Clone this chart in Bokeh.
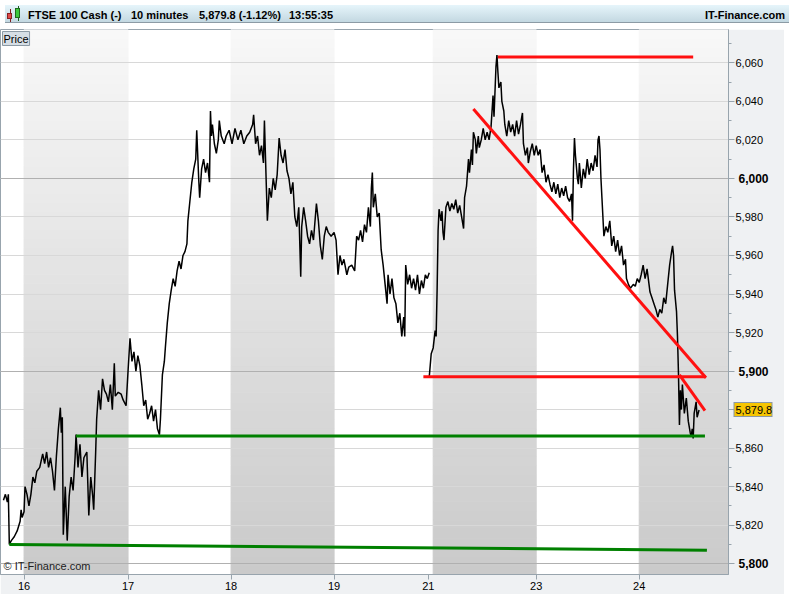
from bokeh.plotting import figure
from bokeh.models import (FixedTicker, Range1d, Label, Grid, Div, NumeralTickFormatter,
                          LinearAxis)
from bokeh.layouts import column
from bokeh.embed import file_html
from bokeh.resources import INLINE

# ---------------- data ----------------
instrument = "FTSE 100 Cash (-)"
interval = "10 minutes"
last_quote = "5,879.8 (-1.12%)"
clock = "13:55:35"
last_price = 5879.8

# 10-minute bar index (0 = first bar of the 16th) and session starts
day_starts = [0, 106, 211, 316, 417, 522, 627]
shaded_days = [0, 2, 4, 6]
tick_pos = [0, 106, 211, 316, 412, 522, 627]
tick_labels = ["16", "17", "18", "19", "21", "23", "24"]
price_ticks = list(range(5800, 6061, 20))
price_minor = list(range(5800, 6071, 10))
bold_ticks = [5800, 5900, 6000]
hidden_ticks = [5880]   # covered by the last-price tag

session1 = [(-21,5833),(-19,5836),(-17,5832),(-16,5836),(-15,5810),(-13,5812),(-10,5814),(-7,5817),(-4,5822),(-3,5828),(-2,5824),(0,5827),(1,5840),(3,5836),(5,5830),(7,5836),(9,5845),(11,5842),(13,5848),(16,5850),(19,5857),(21,5852),(23,5858),(25,5850),(27,5855),(29,5848),(31,5838),(33,5856),(35,5870),(37,5881),(38,5868),(39,5876),(40,5815),(42,5840),(44,5812),(46,5835),(48,5845),(50,5838),(52,5855),(53,5867),(55,5850),(57,5862),(59,5845),(61,5855),(64,5858),(66,5825),(68,5845),(70,5835),(71,5828),(73,5858),(74,5875),(76,5890),(78,5880),(80,5896),(82,5890),(84,5888),(86,5884),(88,5893),(90,5880),(92,5904),(93,5887),(96,5889),(99,5888),(101,5885),(104,5882),(106,5900),(108,5917),(110,5905),(112,5910),(114,5900),(116,5908),(118,5903),(120,5893),(122,5882),(124,5885),(126,5875),(128,5878),(130,5882),(132,5874),(134,5880),(136,5870),(138,5867),(139,5875),(141,5898),(143,5905),(144,5912),(146,5925),(148,5935),(150,5942),(152,5948),(154,5944),(156,5952),(158,5957),(160,5953),(162,5960),(164,5962),(166,5966),(167,5978),(169,5988),(171,5998),(173,6005),(175,6010),(176,6025),(178,6000),(179,5990),(181,6005),(183,6010),(185,6003),(187,6008),(189,5998),(190,6035),(191,6022),(192,6028),(194,6018),(196,6013),(198,6020),(199,6030),(201,6022),(204,6018),(206,6022),(209,6025),(212,6018),(215,6026),(218,6020),(221,6025),(224,6018),(227,6022),(230,6024),(233,6028),(234,6033),(236,6018),(238,6022),(240,6012),(242,6017),(244,6008),(245,6030),(247,5995),(248,5978),(250,5995),(252,5990),(254,6000),(256,5994),(258,6002),(260,6021),(262,6012),(264,6008),(266,6015),(268,6004),(270,6000),(272,5992),(274,5998),(276,5980),(278,5975),(280,5985),(282,5949),(283,5975),(285,5985),(287,5978),(289,5970),(291,5966),(293,5973),(295,5968),(298,5987),(300,5978),(302,5965),(304,5958),(306,5970),(308,5975),(310,5972),(313,5970),(316,5972),(318,5968),(320,5950),(322,5960),(324,5955),(326,5958),(329,5950),(331,5954),(334,5955),(337,5952),(339,5970),(341,5968),(343,5973),(345,5967),(347,5976),(349,5972),(351,5985),(353,5975),(354,5995),(355,6003),(356,5985),(358,5992),(360,5980),(362,5982),(364,5963),(366,5955),(368,5945),(370,5935),(371,5950),(373,5940),(375,5948),(377,5938),(379,5935),(381,5925),(383,5930),(385,5918),(387,5928),(388,5918),(389,5955),(391,5945),(393,5950),(395,5943),(397,5948),(399,5942),(401,5950),(403,5940),(405,5947),(407,5943),(409,5950),(411,5948),(413,5951)]

session2 = [(413,5897),(414,5903),(415,5909),(417,5912),(419,5921),(420,5918),(421,5942),(422,5973),(423,5984),(425,5978),(426,5983),(427,5972),(428,5968),(430,5985),(432,5988),(434,5983),(436,5987),(438,5984),(440,5989),(442,5982),(444,5986),(446,5980),(448,5974),(449,5990),(451,5996),(453,6010),(454,6003),(456,6015),(457,6007),(458,6024),(460,6020),(461,6013),(463,6022),(464,6016),(466,6020),(468,6026),(470,6020),(472,6024),(474,6020),(476,6027),(478,6043),(479,6032),(481,6058),(482,6064),(483,6055),(484,6047),(486,6050),(487,6040),(489,6035),(490,6028),(492,6022),(494,6030),(496,6024),(498,6028),(500,6022),(502,6030),(504,6023),(506,6028),(508,6034),(509,6018),(511,6012),(513,6016),(514,6008),(516,6014),(518,6018),(520,6012),(522,6017),(524,6012),(526,6015),(528,6003),(530,6007),(532,5998),(534,6002),(536,5997),(538,5993),(540,5998),(542,5992),(544,5997),(546,5990),(548,5995),(550,5991),(552,5996),(554,5990),(556,5988),(558,5992),(559,5978),(560,6005),(561,6021),(562,6012),(564,6000),(565,5997),(566,6008),(568,5995),(570,6005),(572,6000),(574,6010),(576,6002),(578,6008),(580,6004),(582,6012),(584,6006),(585,6020),(586,6022),(587,6015),(588,6000),(589,5990),(591,5970),(593,5975),(595,5972),(597,5978),(599,5965),(601,5970),(603,5962),(605,5968),(607,5960),(609,5965),(611,5955),(613,5958),(614,5948),(616,5945),(618,5943),(621,5945),(623,5944),(625,5948),(627,5946),(629,5950),(631,5955),(633,5948),(635,5953),(637,5945),(638,5941),(640,5938),(642,5935),(644,5932),(646,5928),(648,5932),(650,5930),(652,5938),(654,5935),(656,5945),(658,5955),(660,5962),(661,5965),(662,5960),(663,5942),(665,5931),(666,5918),(667,5899),(668,5872),(669,5890),(670,5880),(671,5893),(673,5878),(675,5886),(677,5874),(679,5868),(680,5866),(681,5870),(682,5865),(683,5878),(685,5884),(686,5876),(688,5879.8)]

# drawn trend lines (bar, price)
red_x0 = [483, 458, 407, 668]
red_y0 = [6063, 6036, 5897, 5898]
red_x1 = [682, 695, 695, 694]
red_y1 = [6063, 5896.5, 5897, 5879.5]
green_x0 = [53, -15]
green_y0 = [5866.3, 5810]
green_x1 = [694, 696]
green_y1 = [5866.3, 5807]

# ---------------- view ----------------
X0, X1 = -24, 718
Y0, Y1 = 5794.4, 6077.3
FONT = "Liberation Sans"
AX = "#98a4ad"

p = figure(width=784, height=565, x_range=Range1d(X0, X1), y_range=Range1d(Y0, Y1),
           output_backend="svg", toolbar_location=None, y_axis_location="right",
           min_border_left=0, min_border_top=0, min_border_right=56, min_border_bottom=20)
p.background_fill_color = "white"
p.border_fill_color = "#eff1f3"
p.outline_line_color = AX

# gradient shading of alternate sessions
N = 60
L, R, B, T, C = [], [], [], [], []
for i in shaded_days:
    left = day_starts[i]
    right = day_starts[i + 1] if i + 1 < len(day_starts) else X1
    for k in range(N):
        b = Y0 + (Y1 - Y0) * k / N
        t = Y0 + (Y1 - Y0) * (k + 1) / N
        frac = (k + 0.5) / N
        c = int(round(0xca + (0xf8 - 0xca) * frac))
        L.append(left); R.append(right); B.append(b); T.append(t)
        C.append("#%02x%02x%02x" % (c, c, c))
p.quad(left=L, right=R, bottom=B, top=T, fill_color=C, line_color=C, line_width=1, level="image")

# grids
p.xgrid.visible = False
p.ygrid.ticker = FixedTicker(ticks=price_ticks)
p.ygrid.grid_line_color = "#d8d8d8"
g2 = Grid(dimension=1, ticker=FixedTicker(ticks=bold_ticks), grid_line_color="#b0b0b0")
p.add_layout(g2)

# price line
p.line([b for b, _ in session1], [v for _, v in session1], line_color="black", line_width=1.5)
p.line([b for b, _ in session2], [v for _, v in session2], line_color="black", line_width=1.5)

# trend lines
p.segment(x0=red_x0, y0=red_y0, x1=red_x1, y1=red_y1, line_color="#ff1010", line_width=3)
p.segment(x0=green_x0, y0=green_y0, x1=green_x1, y1=green_y1, line_color="#008000", line_width=3)

# x axis
xa = p.xaxis[0]
xa.ticker = FixedTicker(ticks=tick_pos)
xa.major_label_overrides = {pos: lab for pos, lab in zip(tick_pos, tick_labels)}
xa.major_tick_out = 5
xa.major_tick_in = 0
xa.minor_tick_out = 0
xa.minor_tick_in = 0
xa.axis_line_color = AX
xa.major_tick_line_color = AX
xa.major_label_standoff = 2
xa.major_label_text_font = FONT
xa.major_label_text_font_size = "11px"
xa.major_label_text_color = "black"

# y axis (regular labels)
ya = p.yaxis[0]
ya.ticker = FixedTicker(ticks=price_ticks, minor_ticks=price_minor)
ya.formatter = NumeralTickFormatter(format="0,0")
ya.major_label_overrides = {v: "" for v in bold_ticks + hidden_ticks}
ya.major_tick_out = 6
ya.major_tick_in = 0
ya.minor_tick_out = 3
ya.minor_tick_in = 0
ya.axis_line_color = AX
ya.major_tick_line_color = AX
ya.minor_tick_line_color = AX
ya.major_label_standoff = 1
ya.major_label_text_font = FONT
ya.major_label_text_font_size = "11px"
ya.major_label_text_color = "black"

# second right axis carrying the bold round-hundred labels, pulled back over the first
yb = LinearAxis(ticker=FixedTicker(ticks=bold_ticks), formatter=NumeralTickFormatter(format="0,0"),
                axis_line_color=None, major_tick_line_color=None, minor_tick_line_color=None,
                major_tick_out=0, major_tick_in=0, minor_tick_out=0, minor_tick_in=0,
                major_label_standoff=-28, major_label_text_font=FONT,
                major_label_text_font_size="12px", major_label_text_font_style="bold",
                major_label_text_color="black")
p.add_layout(yb, "right")

# third right axis: last-price tag (grey tick = frame, yellow minor tick = fill)
yc = LinearAxis(ticker=FixedTicker(ticks=[last_price], minor_ticks=[last_price]),
                formatter=NumeralTickFormatter(format="0,0.0"),
                axis_line_color=None,
                major_tick_line_color="#8a98a4", major_tick_line_width=15,
                major_tick_in=38, major_tick_out=1,
                minor_tick_line_color="#f6c500", minor_tick_line_width=13,
                minor_tick_in=37, minor_tick_out=0,
                major_label_standoff=-37, major_label_text_font=FONT,
                major_label_text_font_size="11px", major_label_text_color="black")
p.add_layout(yc, "right")

# "Price" box and copyright
p.add_layout(Label(x=X0, y=Y1, x_offset=2, y_offset=-2, text="Price", text_baseline="top",
                   text_align="left", text_font=FONT, text_font_size="11px", text_color="black",
                   background_fill_color="#d6dee5", border_line_color="#8c9aa5", padding=1))
p.add_layout(Label(x=X0, y=Y0, x_offset=3, y_offset=3, text="\u00a9 IT-Finance.com",
                   text_baseline="bottom", text_align="left", text_font=FONT,
                   text_font_size="11px", text_color="#222222"))

# header bar
font_css = "font-family:'Liberation Sans',Arial,sans-serif;font-weight:bold;font-size:11px;color:#000;"
header_html = (
    '<div style="position:relative;width:784px;height:18px;'
    'background:linear-gradient(to bottom,#e6f5fb,#c3d8e1);border-bottom:1px solid #8c9ba5;' + font_css + '">'
    '<span style="position:absolute;left:5px;top:4px;width:1px;height:13px;background:#802020"></span>'
    '<span style="position:absolute;left:2px;top:8px;width:5px;height:6px;background:#e04a4a;border:1px solid #8a2020"></span>'
    '<span style="position:absolute;left:13px;top:1px;width:1px;height:15px;background:#206020"></span>'
    '<span style="position:absolute;left:10px;top:3px;width:5px;height:10px;background:#3cc83c;border:1px solid #206a20"></span>'
    '<span style="position:absolute;left:23px;top:3px">' + instrument + '</span>'
    '<span style="position:absolute;left:126px;top:3px">' + interval + '</span>'
    '<span style="position:absolute;left:194px;top:3px">' + last_quote + '</span>'
    '<span style="position:absolute;left:284px;top:3px">' + clock + '</span>'
    '<span style="position:absolute;right:4px;top:3px">IT-Finance.com</span>'
    '</div>'
)
header = Div(text=header_html, width=784, height=19)

layout = column(header, p, spacing=0)
open("out.html", "w").write(file_html(layout, INLINE))
